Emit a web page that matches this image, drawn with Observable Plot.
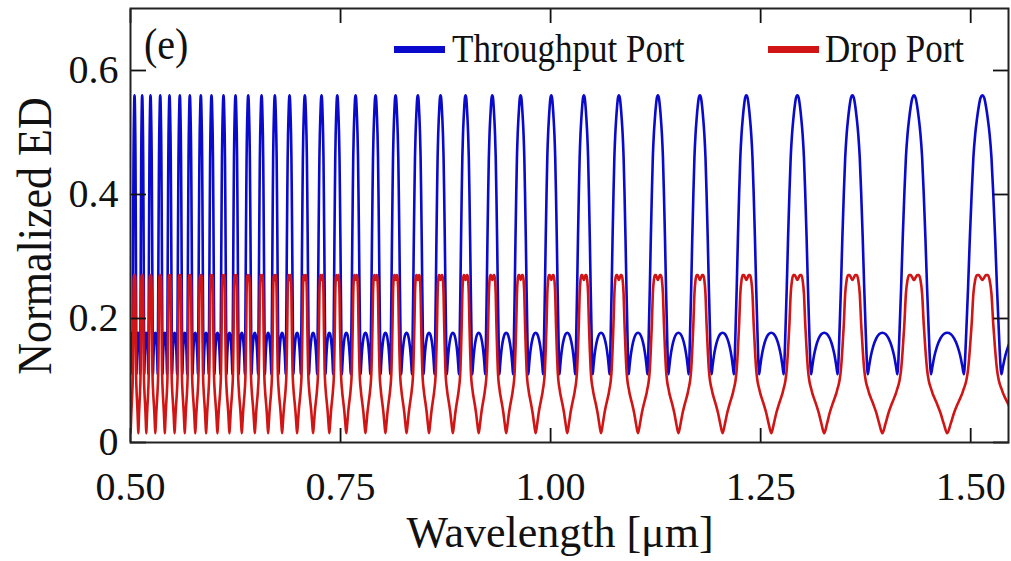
<!DOCTYPE html>
<html><head><meta charset="utf-8">
<script src="https://cdn.jsdelivr.net/npm/d3@7"></script>
<script src="https://cdn.jsdelivr.net/npm/@observablehq/plot@0.6"></script>
<style>
body{margin:0;background:#fff}
#wrap{position:relative;width:1011px;height:561px;font-family:"Liberation Serif","Times New Roman",serif;color:#111;overflow:hidden}
.abs{position:absolute;white-space:nowrap;line-height:1}
.sw{position:absolute;height:7px}
</style></head>
<body><div id="wrap"></div>
<script>
// Peak wavelengths (µm) of the Throughput Port resonances
const peakWavelengths = [0.4954, 0.5048, 0.5139, 0.5238, 0.5354, 0.5464, 0.5587, 0.5706, 0.5837, 0.5964,
  0.6107, 0.6250, 0.6401, 0.6560, 0.6718, 0.6893, 0.7075, 0.7274, 0.7461, 0.7679, 0.7917, 0.8155,
  0.8420, 0.8690, 0.8988, 0.9306, 0.9643, 1.0008, 1.0396, 1.0813, 1.1277, 1.1777, 1.2330, 1.2937,
  1.3592, 1.4325, 1.5139, 1.6050];
// Phase within one free spectral range (0 = resonance, 0.5 = mid-way), read from one period
const phases =          [0, 0.025, 0.05, 0.075, 0.1, 0.125, 0.15, 0.175, 0.2, 0.225, 0.25, 0.26, 0.28, 0.31, 0.35, 0.4, 0.45, 0.5];
const throughputShape = [0.56, 0.556, 0.542, 0.522, 0.497, 0.46, 0.40, 0.33, 0.25, 0.18, 0.12, 0.11, 0.122, 0.139, 0.155, 0.168, 0.175, 0.177];
const dropShape =       [0.262, 0.266, 0.27, 0.27, 0.262, 0.24, 0.19, 0.15, 0.118, 0.1, 0.09, 0.087, 0.08, 0.072, 0.062, 0.048, 0.03, 0.015];
const xTicks = [0.5, 0.75, 1.0, 1.25, 1.5];
const yTicks = [0, 0.2, 0.4, 0.6];
const seriesNames = ["Throughput Port", "Drop Port"];
const seriesColors = ["#0a0acd", "#d11414"];

// Build table: one full period = phases 0..0.5 and mirror 0.5..1, placed between consecutive resonances (in 1/λ)
const fullPh = phases.concat(phases.slice(0, -1).reverse().map(p => 1 - p));
const fullT = throughputShape.concat(throughputShape.slice(0, -1).reverse());
const fullD = dropShape.concat(dropShape.slice(0, -1).reverse());
const rows = [];
for (let k = 0; k < peakWavelengths.length - 1; k++) {
  const f0 = 1 / peakWavelengths[k], f1 = 1 / peakWavelengths[k + 1];
  const last = k === peakWavelengths.length - 2;
  for (let i = 0; i < fullPh.length - (last ? 0 : 1); i++) {
    const lam = 1 / (f0 + (f1 - f0) * fullPh[i]);
    rows.push({lam, v: fullT[i], s: seriesNames[0]});
    rows.push({lam, v: fullD[i], s: seriesNames[1]});
  }
}

const fmtY = d => d === 0 ? "0" : d.toFixed(1);
const chart = Plot.plot({
  width: 1011, height: 561,
  marginLeft: 130, marginRight: 3, marginTop: 8, marginBottom: 119,
  style: {fontFamily: '"Liberation Serif","Times New Roman",serif', fontSize: "40px", color: "#111", background: "#fff"},
  x: {domain: [0.5, 1.545], label: null},
  y: {domain: [0, 0.7], label: null},
  color: {domain: seriesNames, range: seriesColors},
  marks: [
    Plot.line(rows.filter(r => r.s === seriesNames[0]), {x: "lam", y: "v", stroke: "s", strokeWidth: 2.6, curve: "monotone-x", clip: true}),
    Plot.line(rows.filter(r => r.s === seriesNames[1]), {x: "lam", y: "v", stroke: "s", strokeWidth: 2.6, curve: "monotone-x", clip: true}),
    Plot.axisX(xTicks, {anchor: "bottom", tickSize: -14, strokeWidth: 1.8, text: null, label: null}),
    Plot.axisX(xTicks, {anchor: "top", tickSize: -14, strokeWidth: 1.8, text: null, label: null}),
    Plot.axisY(yTicks, {anchor: "left", tickSize: -16, strokeWidth: 1.8, text: null, label: null}),
    Plot.axisY(yTicks, {anchor: "right", tickSize: -16, strokeWidth: 1.8, text: null, label: null}),
    Plot.axisX(xTicks, {anchor: "bottom", tickSize: 0, tickPadding: 29, tickFormat: d3.format(".2f"), fontSize: 40, label: null}),
    Plot.axisY(yTicks, {anchor: "left", tickSize: 0, tickPadding: 12, tickFormat: fmtY, fontSize: 40, label: null}),
    Plot.frame({stroke: "#222", strokeWidth: 2})
  ]
});
const wrap = document.getElementById("wrap");
chart.style.position = "absolute"; chart.style.left = "0"; chart.style.top = "0";
wrap.appendChild(chart);

function addText(txt, css) {
  const d = document.createElement("div"); d.className = "abs"; d.textContent = txt;
  Object.assign(d.style, css); wrap.appendChild(d); return d;
}
addText("(e)", {left: "144px", top: "25px", fontSize: "40px", transform: "scale(1,1.1)"});
// legend
const sw1 = document.createElement("div"); sw1.className = "sw";
Object.assign(sw1.style, {left: "394px", top: "46px", width: "51px", background: seriesColors[0]}); wrap.appendChild(sw1);
addText(seriesNames[0], {left: "452px", top: "32px", fontSize: "35px", transform: "scale(1,1.12)"});
const sw2 = document.createElement("div"); sw2.className = "sw";
Object.assign(sw2.style, {left: "768px", top: "46px", width: "51px", background: seriesColors[1]}); wrap.appendChild(sw2);
addText(seriesNames[1], {left: "825px", top: "32px", fontSize: "35px", transform: "scale(1,1.12)"});
// axis titles
addText("Wavelength [μm]", {left: "560px", top: "511px", fontSize: "44px", transform: "translateX(-50%)"});
addText("Normalized ED", {left: "36px", top: "236px", fontSize: "44px", transform: "translate(-50%,-50%) rotate(-90deg) scale(1,1.1)"});
</script></body></html>
